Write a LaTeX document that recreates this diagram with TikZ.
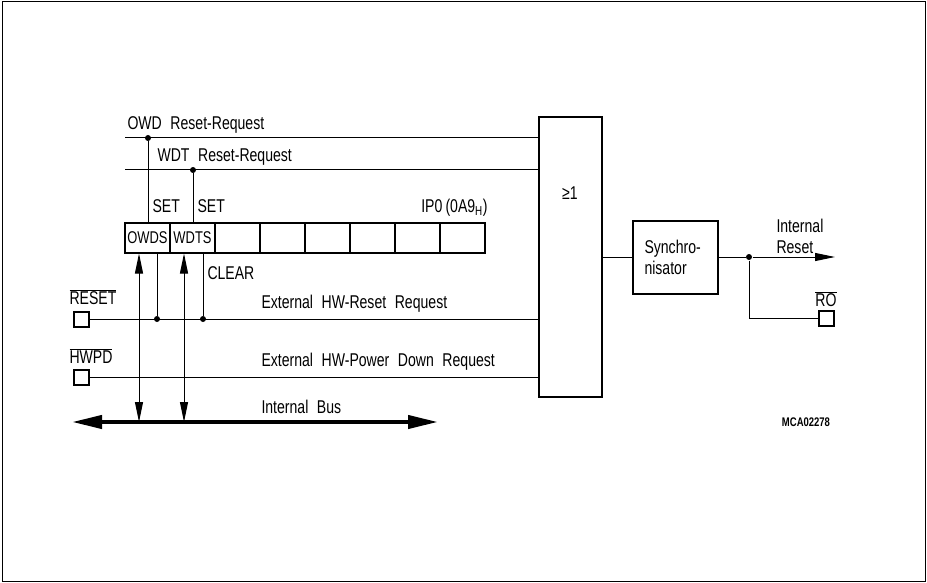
\documentclass[tikz,border=0pt]{standalone}
\usepackage{fontspec}
\setmainfont[FakeStretch=0.76,WordSpace=2.2]{Liberation Sans}
\usetikzlibrary{arrows.meta}
\newcommand{\ovl}[1]{$\overline{\mbox{#1}}$}
\tikzset{
  sigtip/.tip={Triangle[length=20pt,width=8pt]},
  bustip/.tip={Triangle[length=30pt,width=13pt]}
}

\begin{document}
\begin{tikzpicture}[x=1pt, y=-1pt, line width=1pt,
  every node/.style={font=\fontsize{18.5}{21}\selectfont, inner sep=0pt},
  lbl/.style={anchor=west},
  cell/.style={draw, line width=2pt, minimum width=45pt, minimum height=30pt, font=\fontsize{17}{19}\selectfont},
  pin/.style={draw, line width=2pt, minimum size=15pt},
  dot/.style={circle, fill, minimum size=6pt},
  gate/.style={draw, line width=2pt}]
\useasboundingbox (0,0) rectangle (927,583);
% frame
\draw (2,2) rectangle (925,581);
% OR gate and synchronisator
\node[gate, minimum width=63pt, minimum height=280pt] (orgate) at (570,257) {};
\node (orlbl) at (570,193) {≥1};
\node[gate, minimum width=85pt, minimum height=73pt] (sync) at (675.5,257) {};
\node[align=left, anchor=west] (synclbl) at (644,257) {Synchro-\\nisator};
% register IP0
\foreach \i/\t in {1/OWDS,2/WDTS,3/{},4/{},5/{},6/{},7/{},8/{}}
  \node[cell] (r\i) at ({102.5+45*\i},237.5) {\t};
\node[anchor=east] (iplbl) at (488,208) {IP0\,(0A9\textsubscript{H})};
% pins
\node[pin] (resetpin) at (81,319) {};
\node[pin] (hwpdpin) at (81,377) {};
\node[pin] (ropin) at (826,318.5) {};
\node[lbl] (resetlbl) at (69,297) {\ovl{RESET}};
\node[lbl] (hwpdlbl) at (69,356) {\ovl{HWPD}};
\node (rolbl) at (826,299) {\ovl{RO}};
% request lines
\coordinate (owd) at (125,138);
\coordinate (wdt) at (125,170);
\draw (owd) -- (owd -| orgate.west);
\draw (wdt) -- (wdt -| orgate.west);
\draw (resetpin) -- (resetpin -| orgate.west);
\draw (hwpdpin) -- (hwpdpin -| orgate.west);
\node[lbl] (owdlbl) at (127,125) {OWD Reset-Request};
\node[lbl] (wdtlbl) at (157,157) {WDT Reset-Request};
\node[lbl] (extrst) at (261,304) {External HW-Reset Request};
\node[lbl] (extpd) at (261,362) {External HW-Power Down Request};
% set and clear
\node[dot] (owddot) at (148,138) {};
\node[dot] (wdtdot) at (193,170) {};
\draw (owddot) -- (owddot |- r1.north);
\draw (wdtdot) -- (wdtdot |- r2.north);
\node[lbl] (set1) at (152,206) {SET};
\node[lbl] (set2) at (197,206) {SET};
\node[dot] (clr1) at (157,319) {};
\node[dot] (clr2) at (203,319) {};
\draw (clr1) -- (clr1 |- r1.south);
\draw (clr2) -- (clr2 |- r2.south);
\node[lbl] (clrlbl) at (207,273) {CLEAR};
% internal bus
\coordinate (busl) at (72,422);
\coordinate (busr) at (438,422);
\draw[line width=4pt, bustip-bustip] (busl) -- (busr);
\node[lbl] (buslbl) at (261,407) {Internal Bus};
\coordinate (bus1) at (139,422);
\coordinate (bus2) at (184,422);
\draw[sigtip-sigtip] (bus1 |- r1.south) -- (bus1);
\draw[sigtip-sigtip] (bus2 |- r2.south) -- (bus2);
% output
\node[dot] (outdot) at (749,257) {};
\coordinate (intreset) at (835,257);
\draw (orgate) -- (sync);
\draw (sync) -- (outdot);
\draw[-sigtip] (outdot) -- (intreset);
\draw (outdot) |- (ropin);
\node[align=left, anchor=south west] (intlbl) at (776,254) {Internal\\Reset};
\node[font=\fontsize{12.5}{14}\selectfont\bfseries] (mcalbl) at (806,422) {MCA02278};
\end{tikzpicture}
\end{document}
